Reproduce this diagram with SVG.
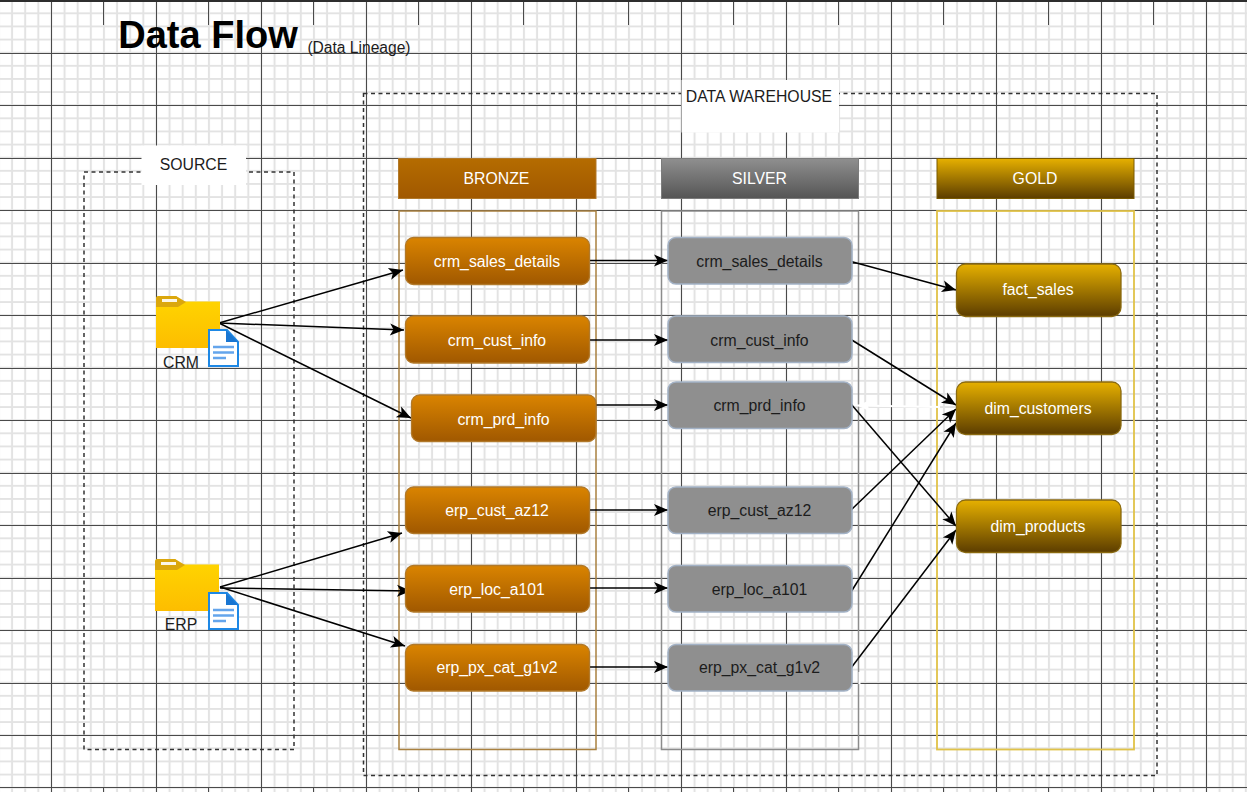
<svg xmlns="http://www.w3.org/2000/svg" width="1247" height="792" viewBox="0 0 1247 792">
<style>
text{font-family:"Liberation Sans",Arial,sans-serif;font-size:15.8px;text-anchor:middle}
.w{fill:#fff}.d{fill:#1c1c1c}
.br{fill:url(#gB);stroke:#b1792a;stroke-width:1.3}
.si{fill:#8f8f8f;stroke:#a3b2c6;stroke-width:1.5}
.go{fill:url(#gG);stroke:#8a6a10;stroke-width:1.3}
.dash{fill:none;stroke:#333;stroke-width:1.5;stroke-dasharray:4 3.5}
.c{fill:none;stroke:#000;stroke-width:1.5;marker-end:url(#ah)}
.box{fill:none;stroke-width:1.5}
</style>
<defs>
<pattern id="minor" patternUnits="userSpaceOnUse" x="5.5" y="6.75" width="13.125" height="13.125">
<rect width="13.125" height="13.125" fill="#fff"/>
<path d="M0 6.5625H13.125M6.5625 0V13.125" fill="none" stroke="#e3e3e3" stroke-width="2"/>
</pattern>
<linearGradient id="gB" x1="0" y1="0" x2="0" y2="1"><stop offset="0" stop-color="#da8400"/><stop offset="1" stop-color="#a05800"/></linearGradient>
<linearGradient id="gBH" x1="0" y1="0" x2="0" y2="1"><stop offset="0" stop-color="#b56c00"/><stop offset="1" stop-color="#a05800"/></linearGradient>
<linearGradient id="gS" x1="0" y1="0" x2="0" y2="1"><stop offset="0" stop-color="#8f8f8f"/><stop offset="1" stop-color="#555"/></linearGradient>
<linearGradient id="gG" x1="0" y1="0" x2="0" y2="1"><stop offset="0" stop-color="#e6b000"/><stop offset="1" stop-color="#5c3d00"/></linearGradient>
<linearGradient id="gF" x1="0" y1="0" x2="0" y2="1"><stop offset="0" stop-color="#ffd600"/><stop offset="1" stop-color="#fdbd00"/></linearGradient>
<marker id="ah" markerUnits="userSpaceOnUse" markerWidth="16" markerHeight="14" refX="15" refY="7" orient="auto"><path d="M15 7L1 1L4.500 7L1 13Z" fill="#000"/></marker>
<marker id="ahw" markerUnits="userSpaceOnUse" markerWidth="16" markerHeight="14" refX="15" refY="7" orient="auto"><path d="M15 7L1 1L4.500 7L1 13Z" fill="#fff"/></marker>
<g id="folder">
<path d="M0 11V3Q0 0 3 0H20L27 5.500H64V52H0Z" fill="url(#gF)"/>
<path d="M0 3Q0 0 3 0H20L30 6L22 11H0Z" fill="#dba70d"/>
<rect x="6" y="3" width="15" height="3" fill="#fff" opacity=".9"/>
</g>
<g id="doc">
<path d="M1 1H19L30 13V37H1Z" fill="#fff" stroke="#1e88e5" stroke-width="2"/>
<path d="M18 1L30 13H18Z" fill="#1976d2"/>
<path d="M5 18H26M5 23.500H26M5 29H18" stroke="#64a5ec" stroke-width="2.400" fill="none"/>
</g>
</defs>

<g id="grid">
<rect width="1247" height="792" fill="url(#minor)"/>
<path d="M0 53.500H1247M0 105.500H1247M0 158.500H1247M0 210.500H1247M0 263.500H1247M0 315.500H1247M0 368.500H1247M0 420.500H1247M0 473.500H1247M0 525.500H1247M0 578.500H1247M0 630.500H1247M0 683.500H1247M0 735.500H1247M0 787.500H1247M51.500 0V792M156.500 0V792M261.500 0V792M366.500 0V792M471.500 0V792M576.500 0V792M681.500 0V792M786.500 0V792M891.500 0V792M996.500 0V792M1101.500 0V792M1206.500 0V792" fill="none" stroke="#4a4a4a" stroke-width="1"/>
<path d="M103.500 0V25M208.500 0V25M313.500 0V25M418.500 0V25M523.500 0V25M628.500 0V25M733.500 0V25M838.500 0V25M943.500 0V25M1048.500 0V25M1153.500 0V25M103.500 788V792M208.500 788V792M313.500 788V792M418.500 788V792M523.500 788V792M628.500 788V792M733.500 788V792M838.500 788V792M943.500 788V792M1048.500 788V792M1153.500 788V792" fill="none" stroke="#4a4a4a" stroke-width="1"/>
<rect width="1247" height="2" fill="#2e2e2e"/>
</g>

<g id="title">
<text x="208" y="48" style="font-size:38px;font-weight:bold" fill="#000">Data Flow</text>
<text x="359" y="53" style="font-size:15.600px" class="d">(Data Lineage)</text>
</g>

<g id="source-frame">
<rect x="84" y="172" width="210" height="577.500" class="dash"/>
<rect x="141.500" y="145.500" width="104.500" height="39.500" fill="#fff"/>
<text x="193.500" y="170" class="d">SOURCE</text>
</g>
<g id="warehouse-frame">
<rect x="363.500" y="93.500" width="793.500" height="682" class="dash"/>
<rect x="681.500" y="80" width="157.500" height="52.500" fill="#fff"/>
<text x="759" y="102" class="d">DATA WAREHOUSE</text>
</g>

<g id="bronze-layer">
<rect x="398.500" y="158.500" width="197.500" height="40" fill="url(#gBH)" stroke="#b1792a"/>
<text x="496.500" y="183.500" class="w">BRONZE</text>
<rect x="399" y="211" width="197" height="538.500" class="box" stroke="#a9803f"/>
</g>
<g id="silver-layer">
<rect x="661.500" y="158.500" width="197" height="40" fill="url(#gS)" stroke="#7c7c7c"/>
<text x="759.500" y="183.500" class="w">SILVER</text>
<rect x="661.500" y="211" width="197" height="538.500" class="box" stroke="#8c8c8c"/>
</g>
<g id="gold-layer">
<rect x="937" y="158.500" width="197" height="40" fill="url(#gG)" stroke="#7a5a00"/>
<text x="1035" y="183.500" class="w">GOLD</text>
<rect x="937" y="211" width="197" height="538.500" class="box" stroke="#e0c248" style="stroke-width:1.800"/>
</g>

<g id="connectors">
<path class="c" d="M219 323L403 270"/>
<path class="c" d="M219 323L404 330"/>
<path class="c" d="M219 323L411 418"/>
<path class="c" d="M220 587L402 533"/>
<path class="c" d="M220 588L411 591"/>
<path class="c" d="M220 587L405 646"/>
<path class="c" d="M590 260.500H668"/>
<path class="c" d="M590 340H668"/>
<path class="c" d="M596 405H668"/>
<path class="c" d="M590 510H668"/>
<path class="c" d="M590 588H668"/>
<path class="c" d="M590 667H668"/>
<path class="c" d="M851 261.500L956 290"/>
<path class="c" d="M851 339.500L956 405"/>
<path class="c" d="M851 404L956 526"/>
<path class="c" d="M851 510L956 409"/>
<path class="c" d="M851 592L956 423"/>
<path class="c" d="M851 668L956 530"/>
<path d="M940 407L857 405.500" fill="none" stroke="#fff" stroke-width="2" marker-end="url(#ahw)"/>
<path d="M859.500 672V684M859.500 678H862" fill="none" stroke="#fff" stroke-width="2"/>
</g>

<g id="crm"><use href="#folder" x="156" y="296"/><use href="#doc" x="208" y="329"/><text x="181" y="368" class="d">CRM</text></g>
<g id="erp"><use href="#folder" x="155" y="559"/><use href="#doc" x="208" y="592"/><text x="181" y="630" class="d">ERP</text></g>

<g id="b-crm_sales_details"><rect x="405.500" y="237.500" width="184" height="47" rx="8" class="br"/><text x="497" y="266.700" class="w">crm_sales_details</text></g>
<g id="b-crm_cust_info"><rect x="405.500" y="316" width="184" height="47" rx="8" class="br"/><text x="497" y="345.500" class="w">crm_cust_info</text></g>
<g id="b-crm_prd_info"><rect x="411.500" y="395" width="184.500" height="46.500" rx="8" class="br"/><text x="503.500" y="424.500" class="w">crm_prd_info</text></g>
<g id="b-erp_cust_az12"><rect x="405.500" y="487" width="184" height="46.500" rx="8" class="br"/><text x="497" y="515.500" class="w">erp_cust_az12</text></g>
<g id="b-erp_loc_a101"><rect x="405.500" y="565.500" width="184" height="46.500" rx="8" class="br"/><text x="497" y="594.500" class="w">erp_loc_a101</text></g>
<g id="b-erp_px_cat_g1v2"><rect x="405.500" y="644.500" width="184" height="46.500" rx="8" class="br"/><text x="497" y="673" class="w">erp_px_cat_g1v2</text></g>

<g id="s-crm_sales_details"><rect x="668" y="237.500" width="184" height="46.500" rx="8" class="si"/><text x="759.500" y="266.700" class="d">crm_sales_details</text></g>
<g id="s-crm_cust_info"><rect x="668" y="316" width="184" height="46.500" rx="8" class="si"/><text x="759.500" y="345.500" class="d">crm_cust_info</text></g>
<g id="s-crm_prd_info"><rect x="668" y="382" width="184" height="46.500" rx="8" class="si"/><text x="759.500" y="410.500" class="d">crm_prd_info</text></g>
<g id="s-erp_cust_az12"><rect x="668" y="487" width="184" height="46.500" rx="8" class="si"/><text x="759.500" y="515.500" class="d">erp_cust_az12</text></g>
<g id="s-erp_loc_a101"><rect x="668" y="565.500" width="184" height="46.500" rx="8" class="si"/><text x="759.500" y="594.500" class="d">erp_loc_a101</text></g>
<g id="s-erp_px_cat_g1v2"><rect x="668" y="644.500" width="184" height="46.500" rx="8" class="si"/><text x="759.500" y="673" class="d">erp_px_cat_g1v2</text></g>

<g id="g-fact_sales"><rect x="956.500" y="264" width="164.500" height="52.500" rx="9" class="go"/><text x="1038" y="295" class="w">fact_sales</text></g>
<g id="g-dim_customers"><rect x="956.500" y="382" width="164.500" height="52.500" rx="9" class="go"/><text x="1038" y="414" class="w">dim_customers</text></g>
<g id="g-dim_products"><rect x="956.500" y="500" width="164.500" height="52.500" rx="9" class="go"/><text x="1038" y="532" class="w">dim_products</text></g>
</svg>
